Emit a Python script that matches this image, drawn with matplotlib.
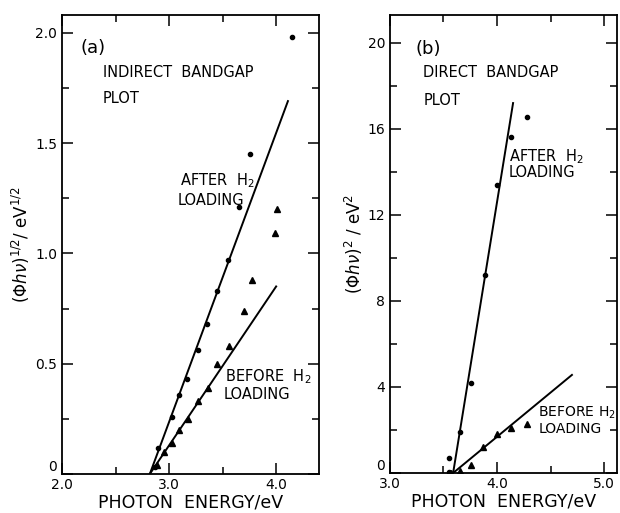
import matplotlib
matplotlib.use('Agg')
import matplotlib.pyplot as plt
from matplotlib.ticker import MultipleLocator, FormatStrFormatter

# ---- data ----
# (a) indirect bandgap plot
a_after_x = [2.87, 2.90, 3.03, 3.09, 3.17, 3.27, 3.35, 3.45, 3.55, 3.65, 3.76, 4.15]
a_after_y = [0.03, 0.12, 0.26, 0.36, 0.43, 0.56, 0.68, 0.83, 0.97, 1.21, 1.45, 1.98]
a_before_x = [2.89, 2.95, 3.03, 3.09, 3.18, 3.27, 3.36, 3.45, 3.56, 3.70, 3.77, 3.99, 4.01]
a_before_y = [0.04, 0.10, 0.14, 0.20, 0.25, 0.33, 0.39, 0.50, 0.58, 0.74, 0.88, 1.09, 1.20]
a_after_fit_x = [2.82, 4.11]
a_after_fit_y = [0.0, 1.69]
a_before_fit_x = [2.82, 4.00]
a_before_fit_y = [0.0, 0.85]

# (b) direct bandgap plot
b_after_x = [3.55, 3.55, 3.65, 3.76, 3.89, 4.00, 4.13, 4.28]
b_after_y = [0.05, 0.7, 1.9, 4.2, 9.2, 13.4, 15.6, 16.56]
b_before_x = [3.57, 3.65, 3.76, 3.87, 4.00, 4.13, 4.28]
b_before_y = [0.02, 0.08, 0.37, 1.2, 1.8, 2.1, 2.3]
b_after_fit_x = [3.59, 4.15]
b_after_fit_y = [0.0, 17.2]
b_before_fit_x = [3.59, 4.70]
b_before_fit_y = [0.0, 4.56]

plt.rcParams['font.family'] = 'DejaVu Sans'

fig = plt.figure(figsize=(6.2, 5.13), dpi=100)
ax1 = fig.add_axes([0.100, 0.076, 0.4145, 0.8947])
ax2 = fig.add_axes([0.629, 0.078, 0.366, 0.893])

TXT = 10.5


def style_axes(ax):
    for s in ax.spines.values():
        s.set_linewidth(1.3)
    ax.tick_params(which='both', direction='in', top=True, right=True,
                   labelsize=10, width=1.1)
    ax.tick_params(which='major', length=8)
    ax.tick_params(which='minor', length=5)
    ax.tick_params(axis='x', pad=3)
    ax.xaxis.set_major_formatter(FormatStrFormatter('%.1f'))


# panel (a)
ax1.plot(a_after_fit_x, a_after_fit_y, color='black', lw=1.4)
ax1.plot(a_before_fit_x, a_before_fit_y, color='black', lw=1.4)
ax1.plot(a_after_x, a_after_y, 'o', color='black', ms=3)
ax1.plot(a_before_x, a_before_y, '^', color='black', ms=4)
ax1.set_xlim(2.0, 4.4)
ax1.set_ylim(0, 2.08)
ax1.xaxis.set_major_locator(MultipleLocator(1.0))
ax1.xaxis.set_minor_locator(MultipleLocator(0.5))
ax1.yaxis.set_minor_locator(MultipleLocator(0.25))
ax1.set_yticks([0, 0.5, 1.0, 1.5, 2.0])
ax1.set_yticklabels(['0', '0.5', '1.0', '1.5', '2.0'])
style_axes(ax1)
ax1.set_xlabel('PHOTON  ENERGY/eV', fontsize=12.5, labelpad=1)
ax1.set_ylabel(r'$(\Phi h\nu)^{1/2}$/ eV$^{1/2}$', fontsize=12, labelpad=2)
ax1.text(2.17, 1.93, '(a)', fontsize=13, va='center')
ax1.text(2.38, 1.82, 'INDIRECT  BANDGAP', fontsize=TXT, va='center')
ax1.text(2.38, 1.70, 'PLOT', fontsize=TXT, va='center')
ax1.text(3.10, 1.33, 'AFTER  H$_2$', fontsize=TXT, va='center')
ax1.text(3.08, 1.24, 'LOADING', fontsize=TXT, va='center')
ax1.text(3.52, 0.44, 'BEFORE  H$_2$', fontsize=TXT, va='center')
ax1.text(3.51, 0.36, 'LOADING', fontsize=TXT, va='center')

# panel (b)
ax2.plot(b_after_fit_x, b_after_fit_y, color='black', lw=1.4)
ax2.plot(b_before_fit_x, b_before_fit_y, color='black', lw=1.4)
ax2.plot(b_after_x, b_after_y, 'o', color='black', ms=3)
ax2.plot(b_before_x, b_before_y, '^', color='black', ms=4)
ax2.set_xlim(3.0, 5.12)
ax2.set_ylim(0, 21.3)
ax2.xaxis.set_major_locator(MultipleLocator(1.0))
ax2.xaxis.set_minor_locator(MultipleLocator(0.5))
ax2.set_yticks([0, 4, 8, 12, 16, 20])
ax2.set_yticklabels(['0', '4', '8', '12', '16', '20'])
ax2.yaxis.set_minor_locator(MultipleLocator(2))
style_axes(ax2)
ax2.set_xlabel('PHOTON  ENERGY/eV', fontsize=12.5, labelpad=1)
ax2.set_ylabel(r'$(\Phi h\nu)^2$ / eV$^2$', fontsize=12, labelpad=2)
ax2.text(3.24, 19.7, '(b)', fontsize=13, va='center')
ax2.text(3.31, 18.6, 'DIRECT  BANDGAP', fontsize=TXT, va='center')
ax2.text(3.31, 17.3, 'PLOT', fontsize=TXT, va='center')
ax2.text(4.11, 14.7, 'AFTER  H$_2$', fontsize=TXT, va='center')
ax2.text(4.11, 13.95, 'LOADING', fontsize=TXT, va='center')
ax2.text(4.38, 2.8, 'BEFORE H$_2$', fontsize=10, va='center')
ax2.text(4.39, 2.05, 'LOADING', fontsize=10, va='center')

# the "0" labels sit just above the corner, clear of the x labels
fig.canvas.draw()
for ax in (ax1, ax2):
    ax.get_yticklabels()[0].set_verticalalignment('bottom')

fig.savefig('out.png', dpi=100)
